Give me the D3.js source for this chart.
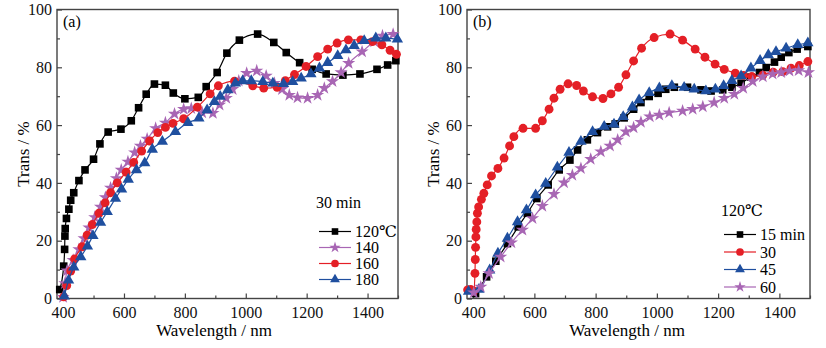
<!DOCTYPE html>
<html>
<head>
<meta charset="utf-8">
<script src="https://cdn.jsdelivr.net/npm/d3@7"></script>
<style>
  body { margin: 0; background: #fff; }
</style>
</head>
<body>
<div id="chart"></div>
<script>
// tick values
var xMajor = [400, 600, 800, 1000, 1200, 1400];
var xMinor = [500, 700, 900, 1100, 1300, 1500];
var yMajor = [0, 20, 40, 60, 80, 100];
var yMinor = [10, 30, 50, 70, 90];

// panel (a): 30 min, different temperatures  [wavelength nm, transmittance %]
var a120 = [[389,3.1],[402,11.2],[405,17],[406,21.6],[407,24.2],[411,27.7],[419,30.9],[425,34],[435,36.6],[452,40.8],[472,44.5],[500,48.2],[521,53.5],[548,57.6],[590,58.6],[624,61.5],[648,66],[673,70.7],[700,74.2],[736,73.8],[762,71.1],[800,69.1],[844,69.6],[870,73.3],[906,78.2],[938,84.9],[979,89.4],[1039,91.5],[1092,88.6],[1133,85.1],[1177,81.6],[1218,79.3],[1264,77.7],[1319,77.3],[1375,77.7],[1431,79.3],[1466,80.8],[1493,82.3]];
var a140 = [[400,0.5],[406,5.2],[413,9.6],[433,13.3],[452,17],[469,20.8],[485,24.5],[504,28.1],[523,31.7],[539,35],[556,38.3],[575,41.6],[591,44.5],[613,47.3],[635,50.5],[654,52.8],[676,55.2],[704,58.9],[736,60.8],[766,63.9],[796,65.5],[821,65.8],[857,64.3],[892,64.1],[914,67],[936,69.3],[957,72.4],[977,75.3],[1003,78],[1036,78.8],[1067,77],[1094,74.5],[1119,72.4],[1143,70.4],[1170,69.5],[1203,69.3],[1236,70.4],[1258,72.8],[1285,75.1],[1313,78.2],[1338,81.4],[1382,85.4],[1422,88.9],[1449,90.9],[1484,91.5]];
var a160 = [[402,0.6],[412,4.5],[425,9.5],[438,13.7],[462,17.9],[479,21.9],[496,25.6],[518,29.5],[538,33.1],[556,36.6],[578,40],[607,43.7],[632,47.1],[658,51],[684,54.5],[711,57.4],[736,59.2],[761,60.6],[796,62.2],[841,66.2],[883,70.8],[910,73.6],[963,75.2],[1023,73.6],[1059,72.8],[1103,73.1],[1130,75.4],[1160,77.5],[1198,80.3],[1236,83.7],[1269,86.3],[1300,88.4],[1337,89.5],[1378,89.5],[1416,88.9],[1447,87.8],[1474,85.9],[1495,84.5]];
var a180 = [[404,0.8],[418,6.3],[435,10.8],[458,14.4],[480,18.1],[498,21.7],[523,26.3],[545,30],[572,34.6],[592,37.8],[614,41.2],[641,44.5],[668,46.9],[693,51.6],[726,54.3],[769,57.7],[810,60.8],[846,62.4],[873,65.2],[897,68.1],[916,69.9],[941,72.2],[966,74.5],[990,75.3],[1018,75.3],[1056,75],[1089,74.5],[1124,74.3],[1154,75],[1182,76.2],[1214,77.7],[1242,79.7],[1269,81.6],[1302,84],[1329,86],[1356,87.5],[1389,89.2],[1427,90.1],[1460,90.1],[1498,89.7]];

// panel (b): 120 C, different times
var b15 = [[408,1.7],[444,7.5],[474,12.9],[512,19],[547,24.8],[577,29.5],[608,34.6],[645,39.3],[681,44.5],[716,47.9],[741,51.4],[773,54.9],[806,57.4],[839,59.4],[864,60.4],[893,62.5],[924,65.5],[948,67.8],[975,69.9],[1004,71],[1029,72.4],[1057,73.1],[1100,73.1],[1144,72.2],[1177,71.8],[1215,72.2],[1245,73.1],[1275,74.5],[1307,76.6],[1335,78.2],[1357,79.9],[1384,81.8],[1406,83.5],[1431,85.1],[1458,86.3],[1493,87.2]];
var b30 = [[382,3],[392,3.1],[402,2.6],[406,8.7],[407,13.5],[408,17.7],[409,21.3],[410,23.9],[412,26.5],[414,29.5],[418,31.7],[427,34.3],[435,36.4],[446,39.3],[460,42.4],[481,45],[501,48.6],[519,52.8],[533,56],[563,58.9],[604,58.9],[626,61.5],[648,65.5],[664,69.3],[684,72.4],[710,74.3],[738,73.7],[760,71.8],[790,69.8],[824,69.2],[850,70.8],[875,73.1],[899,77.4],[924,82.2],[950,86.6],[991,90.3],[1043,91.5],[1084,89.4],[1125,86.3],[1157,83.5],[1190,81.1],[1220,79.3],[1256,78],[1283,77.2],[1310,76.8],[1346,77.3],[1380,78.3],[1411,78.5],[1438,79.7],[1465,80.6],[1493,82]];
var b45 = [[385,2.4],[419,3.1],[454,9.8],[481,15.6],[512,20.8],[545,26.5],[574,30.6],[604,35.8],[637,39.8],[675,45.4],[713,50.5],[752,54.3],[790,57.7],[828,59.5],[860,60.3],[890,62.9],[920,66.2],[942,68.7],[975,71.2],[1008,72.8],[1049,73.6],[1089,73],[1122,72.4],[1160,71.8],[1191,72.4],[1218,73.6],[1245,75.4],[1275,77],[1307,79.7],[1337,82.3],[1364,84.3],[1389,85.4],[1422,86.6],[1460,87.8],[1493,88.4]];
var b60 = [[402,2],[425,4],[452,8.7],[490,14.4],[525,19.3],[561,23.7],[594,27.7],[626,32],[664,36.1],[697,40.1],[724,42.7],[752,45],[784,48.2],[817,50.8],[847,52.8],[872,54.9],[899,57.7],[924,59.1],[948,61],[977,62.9],[1008,63.5],[1040,64.3],[1084,64.9],[1117,65.5],[1150,66.4],[1187,67.8],[1220,69.3],[1253,70.7],[1282,72.8],[1313,75.1],[1346,76.8],[1378,77.7],[1406,78.2],[1433,78.8],[1463,78.9],[1495,78.2]];

var aLabels = ["120\u2103", "140", "160", "180"];
var bLabels = ["15 min", "30", "45", "60"];

var BLACK = "#000000", RED = "#e41f26", BLUE = "#1f4f9f", PURPLE = "#a866b4";
var FONT = "'Liberation Serif', 'Times New Roman', Times, 'DejaVu Serif', serif";

var W = 826, H = 348;
var svg = d3.select("#chart").append("svg")
    .attr("width", W).attr("height", H)
    .style("font-family", FONT);
svg.append("rect").attr("width", W).attr("height", H).attr("fill", "#fff");

var shapes = {
    square: { type: d3.symbolSquare, size: 58 },
    circle: { type: d3.symbolCircle, size: 62 },
    triangle: { type: d3.symbolTriangle, size: 56 },
    star: { type: d3.symbolStar, size: 54 }
};

function drawPanel(p) {
    var x = d3.scaleLinear().domain([380, 1500]).range([p.left, p.right]);
    var y = d3.scaleLinear().domain([0, 100]).range([298.5, 9.5]);
    var g = svg.append("g");

    // axes with inward ticks
    g.append("g").attr("transform", "translate(0," + y(0) + ")")
        .call(d3.axisBottom(x).tickValues(xMajor).tickSize(-5).tickPadding(8).tickFormat(d3.format("d")));
    g.append("g").attr("transform", "translate(0," + y(0) + ")")
        .call(d3.axisBottom(x).tickValues(xMinor).tickSize(-3).tickFormat(""));
    g.append("g").attr("transform", "translate(" + p.left + ",0)")
        .call(d3.axisLeft(y).tickValues(yMajor).tickSize(-5).tickPadding(5));
    g.append("g").attr("transform", "translate(" + p.left + ",0)")
        .call(d3.axisLeft(y).tickValues(yMinor).tickSize(-3).tickFormat(""));
    g.selectAll(".domain").remove();
    g.selectAll(".tick line").attr("stroke", "#444").attr("stroke-width", 1.2);
    g.selectAll(".tick text")
        .style("font-family", FONT).style("font-size", "16px").attr("fill", "#111");

    g.append("rect")
        .attr("x", p.left).attr("y", y(100))
        .attr("width", p.right - p.left).attr("height", y(0) - y(100))
        .attr("fill", "none").attr("stroke", "#444").attr("stroke-width", 1.4);

    var line = d3.line()
        .x(function(d) { return x(d[0]); })
        .y(function(d) { return y(d[1]); })
        .curve(d3.curveMonotoneX);

    p.series.forEach(function(s) {
        g.append("path").datum(s.data)
            .attr("d", line)
            .attr("fill", "none")
            .attr("stroke", s.color)
            .attr("stroke-width", 1.2);
        g.selectAll(null).data(s.data).enter()
            .append("path")
            .attr("transform", function(d) { return "translate(" + x(d[0]) + "," + y(d[1]) + ")"; })
            .attr("d", d3.symbol().type(shapes[s.shape].type).size(shapes[s.shape].size))
            .attr("fill", s.color);
    });

    // panel tag
    g.append("text").attr("x", p.left + 6).attr("y", 27)
        .style("font-family", FONT).style("font-size", "16px").text(p.tag);

    // axis titles
    g.append("text")
        .attr("transform", "translate(" + p.yTitleX + ",154) rotate(-90)")
        .attr("text-anchor", "middle")
        .style("font-family", FONT).style("font-size", "17px")
        .text("Trans / %");
    g.append("text")
        .attr("x", p.xTitleX).attr("y", 336)
        .attr("text-anchor", "middle")
        .style("font-family", FONT).style("font-size", "17px")
        .text("Wavelength / nm");

    // legend
    var lg = g.append("g");
    lg.append("text").attr("x", p.legX - 3).attr("y", p.legTitleY)
        .style("font-family", FONT).style("font-size", "16px").text(p.legTitle);
    p.series.forEach(function(s, i) {
        var yy = p.legY0 + i * p.legDy;
        lg.append("line")
            .attr("x1", p.legX).attr("x2", p.legX + 32)
            .attr("y1", yy).attr("y2", yy)
            .attr("stroke", s.color).attr("stroke-width", 1.2);
        lg.append("path")
            .attr("transform", "translate(" + (p.legX + 16) + "," + yy + ")")
            .attr("d", d3.symbol().type(shapes[s.shape].type).size(shapes[s.shape].size * 0.75))
            .attr("fill", s.color);
        lg.append("text")
            .attr("x", p.legX + 36).attr("y", yy + 5.5)
            .style("font-family", FONT).style("font-size", "16px").text(s.label);
    });
}

drawPanel({
    left: 57, right: 398, tag: "(a)",
    yTitleX: 29, xTitleX: 214,
    legX: 319, legTitle: "30 min", legTitleY: 208, legY0: 231.5, legDy: 16,
    series: [
        { data: a120, color: BLACK, shape: "square", label: aLabels[0] },
        { data: a140, color: PURPLE, shape: "star", label: aLabels[1] },
        { data: a160, color: RED, shape: "circle", label: aLabels[2] },
        { data: a180, color: BLUE, shape: "triangle", label: aLabels[3] }
    ]
});

drawPanel({
    left: 467, right: 810, tag: "(b)",
    yTitleX: 439, xTitleX: 627,
    legX: 724, legTitle: "120\u2103", legTitleY: 216, legY0: 234.5, legDy: 17.5,
    series: [
        { data: b15, color: BLACK, shape: "square", label: bLabels[0] },
        { data: b30, color: RED, shape: "circle", label: bLabels[1] },
        { data: b45, color: BLUE, shape: "triangle", label: bLabels[2] },
        { data: b60, color: PURPLE, shape: "star", label: bLabels[3] }
    ]
});
</script>
</body>
</html>
